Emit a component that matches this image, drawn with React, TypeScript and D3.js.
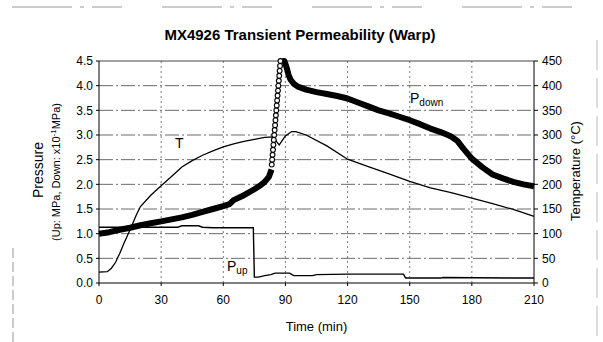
import * as d3 from "d3";

const W = 603;
const H = 342;
const MARGIN = { top: 61, right: 69, bottom: 59, left: 99 };

// Time axis (min)
const timeTicks = [0, 30, 60, 90, 120, 150, 180, 210];
const pressTicks = [0, 0.5, 1, 1.5, 2, 2.5, 3, 3.5, 4, 4.5];
const tempTicks = [0, 50, 100, 150, 200, 250, 300, 350, 400, 450];

// P_down (thick), left axis
const pDownTime = [0, 5, 10, 15, 20, 25, 30, 35, 40, 45, 50, 55, 60, 63, 65, 70, 75, 78, 80, 82, 83.3];
const pDownVal = [1.0, 1.03, 1.08, 1.12, 1.17, 1.21, 1.25, 1.29, 1.33, 1.38, 1.44, 1.5, 1.56, 1.6, 1.68, 1.78, 1.9, 1.98, 2.05, 2.15, 2.3];

// P_down circles during the fast rise
const circTime = [83.4, 83.6, 83.8, 84.0, 84.2, 84.4, 84.6, 84.8, 85.0, 85.2, 85.4, 85.6, 85.8, 86.0, 86.2, 86.4, 86.6, 86.8, 87.0, 87.2, 87.4, 87.6];
const circVal = [2.4, 2.5, 2.6, 2.7, 2.8, 2.9, 3.0, 3.1, 3.2, 3.3, 3.4, 3.5, 3.6, 3.7, 3.8, 3.9, 4.0, 4.1, 4.2, 4.3, 4.4, 4.5];

// P_down after peak
const pDown2Time = [88.5, 89.5, 90.5, 91.5, 92.5, 94, 96, 100, 105, 110, 115, 120, 125, 130, 135, 140, 145, 150, 155, 160, 165, 170, 173, 176, 180, 185, 190, 195, 200, 205, 210];
const pDown2Val = [4.5, 4.5, 4.38, 4.22, 4.12, 4.04, 3.98, 3.92, 3.87, 3.83, 3.79, 3.74, 3.66, 3.58, 3.5, 3.44, 3.37, 3.3, 3.22, 3.13, 3.06, 2.97, 2.88, 2.72, 2.52, 2.35, 2.2, 2.12, 2.05, 2.0, 1.96];

// P_up (thin), left axis
const pUpTime = [0, 38, 40, 48, 50, 55, 74.5, 75, 77, 80, 83, 85, 92, 94, 103, 105, 120, 147, 148, 165, 166, 210];
const pUpVal = [1.13, 1.13, 1.16, 1.16, 1.13, 1.12, 1.12, 0.12, 0.12, 0.15, 0.17, 0.2, 0.2, 0.15, 0.15, 0.17, 0.18, 0.18, 0.1, 0.1, 0.11, 0.1];

// Temperature (thin), right axis
const tTime = [0, 4, 6, 8, 10, 12, 15, 18, 20, 25, 30, 35, 40, 45, 50, 55, 60, 65, 70, 75, 80, 84, 86, 87, 88, 90, 93, 95, 100, 110, 120, 130, 140, 150, 160, 170, 180, 190, 200, 210];
const tVal = [22, 23, 30, 42, 60, 80, 108, 138, 155, 178, 197, 216, 235, 248, 259, 268, 276, 282, 287, 291, 295, 296, 285, 280, 286, 298, 307, 307, 300, 278, 251, 236, 221, 206, 193, 183, 172, 161, 149, 135];

const FONT = "'Liberation Sans', Arial, sans-serif";

export default function App() {
  const x = d3.scaleLinear().domain([0, 210]).range([MARGIN.left, W - MARGIN.right]);
  const yP = d3.scaleLinear().domain([0, 4.5]).range([H - MARGIN.bottom, MARGIN.top]);
  const yT = d3.scaleLinear().domain([0, 450]).range([H - MARGIN.bottom, MARGIN.top]);

  const lineP = d3.line<[number, number]>().x((d) => x(d[0])).y((d) => yP(d[1]));
  const lineT = d3.line<[number, number]>().x((d) => x(d[0])).y((d) => yT(d[1]));

  const zip = (a: number[], b: number[]) => a.map((v, i) => [v, b[i]] as [number, number]);

  const x0 = x(0);
  const x1 = x(210);
  const yTop = yP(4.5);
  const yBot = yP(0);

  return (
    <svg width={W} height={H} style={{ position: "absolute", left: 0, top: 0, background: "#fff" }} fontFamily={FONT}>
      {/* scan border remnants */}
      <line x1={12} x2={603} y1={7} y2={7} stroke="#999" strokeDasharray="60 8 4 8 30 40" strokeWidth={1} />
      <line x1={13} x2={13} y1={248} y2={342} stroke="#999" strokeDasharray="10 4" strokeWidth={1} />
      <line x1={597} x2={597} y1={40} y2={342} stroke="#bbb" strokeDasharray="30 8" strokeWidth={1} />

      <text x={300} y={40} textAnchor="middle" fontSize={15} fontWeight="bold">
        MX4926 Transient Permeability (Warp)
      </text>

      {/* grid */}
      {pressTicks.slice(1).map((v) => (
        <line key={"h" + v} x1={x0} x2={x1} y1={yP(v)} y2={yP(v)} stroke="#444"
          strokeWidth={v === 4.5 ? 1 : 0.8} strokeDasharray={v === 4.5 ? undefined : "14 3 2 3"} />
      ))}
      {timeTicks.slice(1, -1).map((t) => (
        <line key={"v" + t} x1={x(t)} x2={x(t)} y1={yTop} y2={yBot} stroke="#444"
          strokeWidth={0.7} strokeDasharray="2 3" />
      ))}

      {/* axes */}
      <line x1={x0} x2={x0} y1={yTop} y2={yBot} stroke="#000" strokeWidth={1} />
      <line x1={x1} x2={x1} y1={yTop} y2={yBot} stroke="#000" strokeWidth={1} />
      <line x1={x0} x2={x1} y1={yBot} y2={yBot} stroke="#000" strokeWidth={1} />

      {pressTicks.map((v) => (
        <g key={"lp" + v}>
          <line x1={x0 - 3} x2={x0} y1={yP(v)} y2={yP(v)} stroke="#000" />
          <text x={x0 - 6} y={yP(v)} dy="0.35em" textAnchor="end" fontSize={12}>
            {v.toFixed(1)}
          </text>
        </g>
      ))}
      {tempTicks.map((v) => (
        <g key={"lt" + v}>
          <line x1={x1} x2={x1 + 4} y1={yT(v)} y2={yT(v)} stroke="#000" />
          <text x={x1 + 8} y={yT(v)} dy="0.35em" textAnchor="start" fontSize={12}>
            {v}
          </text>
        </g>
      ))}
      {timeTicks.map((t) => (
        <g key={"lx" + t}>
          <line x1={x(t)} x2={x(t)} y1={yBot} y2={yBot + 3} stroke="#000" />
          <text x={x(t)} y={yBot + 17} dy="0.35em" textAnchor="middle" fontSize={12}>
            {t}
          </text>
        </g>
      ))}

      <text x={(x0 + x1) / 2} y={326} dy="0.35em" textAnchor="middle" fontSize={13}>
        Time (min)
      </text>
      <text transform={`translate(38,170) rotate(-90)`} textAnchor="middle" dy="0.35em" fontSize={14}>
        Pressure
      </text>
      <text transform={`translate(56,172) rotate(-90)`} textAnchor="middle" dy="0.35em" fontSize={11}>
        (Up: MPa, Down: x10
        <tspan dy="-4" fontSize={8}>-1</tspan>
        <tspan dy="4">MPa)</tspan>
      </text>
      <text transform={`translate(575,171) rotate(-90)`} textAnchor="middle" dy="0.35em" fontSize={13}>
        Temperature (°C)
      </text>

      {/* series */}
      <path d={lineT(zip(tTime, tVal)) || ""} fill="none" stroke="#000" strokeWidth={1.3} />
      <path d={lineP(zip(pUpTime, pUpVal)) || ""} fill="none" stroke="#000" strokeWidth={1.4} />
      <path d={lineP(zip(pDownTime, pDownVal)) || ""} fill="none" stroke="#000" strokeWidth={6} strokeLinejoin="round" />
      <path d={lineP(zip(pDown2Time, pDown2Val)) || ""} fill="none" stroke="#000" strokeWidth={6} strokeLinejoin="round" />
      {circTime.map((t, i) => (
        <circle key={"c" + i} cx={x(t)} cy={yP(circVal[i])} r={2.4} fill="#fff" stroke="#000" strokeWidth={1.1} />
      ))}

      {/* labels */}
      <text x={175} y={148} fontSize={14}>T</text>
      <text x={410} y={103} fontSize={14}>
        P<tspan fontSize={10} dy="3">down</tspan>
      </text>
      <text x={227} y={271} fontSize={14}>
        P<tspan fontSize={10} dy="3">up</tspan>
      </text>
    </svg>
  );
}
